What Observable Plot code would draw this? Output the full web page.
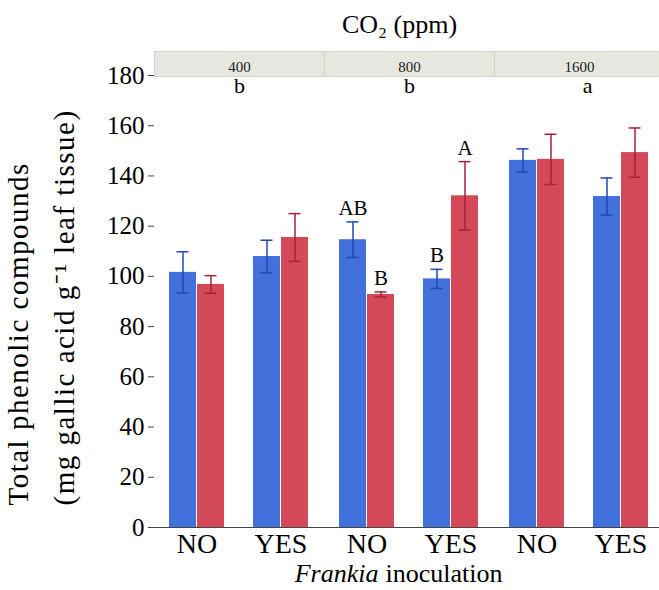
<!DOCTYPE html>
<html><head><meta charset="utf-8">
<script src="https://cdn.jsdelivr.net/npm/d3@7"></script>
<script src="https://cdn.jsdelivr.net/npm/@observablehq/plot@0.6"></script>
<style>body{margin:0;background:#fff}</style>
</head><body><div id="chart"></div>
<script>
// ---- data ----
const co2Levels = ["400", "800", "1600"];
const co2Letters = ["b", "b", "a"];
const groupCo2 = ["400", "400", "800", "800", "1600", "1600"];
const groupInoc = ["NO", "YES", "NO", "YES", "NO", "YES"];
const inocLevels = ["NO", "YES"];
const blueMean = [101.6, 107.9, 114.6, 99.0, 146.2, 131.8];
const blueErr  = [8.2, 6.5, 7.1, 3.8, 4.6, 7.4];
const blueLetters = ["", "", "AB", "B", "", ""];
const redMean = [96.8, 115.5, 92.8, 132.1, 146.6, 149.3];
const redErr  = [3.5, 9.5, 1.0, 13.6, 10.0, 9.8];
const redLetters = ["", "", "B", "A", "", ""];
const yTicks = [0, 20, 40, 60, 80, 100, 120, 140, 160, 180];
const yLabel1 = "Total phenolic compounds";
const yLabel2 = "(mg gallic acid g\u207B\u00B9 leaf tissue)";
const facetTitle = "CO\u2082 (ppm)";
const xTitleItalic = "Frankia";
const xTitleRest = "inoculation";

// ---- build tables ----
const blueRows = groupCo2.map((c, i) => ({co2: c, inoc: groupInoc[i], mean: blueMean[i], lo: blueMean[i] - blueErr[i], hi: blueMean[i] + blueErr[i], letter: blueLetters[i]}));
const redRows = groupCo2.map((c, i) => ({co2: c, inoc: groupInoc[i], mean: redMean[i], lo: redMean[i] - redErr[i], hi: redMean[i] + redErr[i], letter: redLetters[i]}));
const co2Rows = co2Levels.map((c, i) => ({co2: c, letter: co2Letters[i]}));

const FONT = "'Liberation Serif', 'Times New Roman', Times, serif";
const BLUE = "#4371DC", RED = "#D44959";
const BLUE_D = "#2447B2", RED_D = "#A62238";
const HALF = 28;

const plot = Plot.plot({
  width: 659, height: 590,
  marginLeft: 153, marginRight: -6, marginTop: 75, marginBottom: 63,
  style: {fontFamily: FONT, fontSize: "14px", color: "#000", background: "white"},
  fx: {domain: co2Levels, padding: 0, label: null, axis: null},
  x: {domain: inocLevels, paddingInner: 0.3435, paddingOuter: 0.172, axis: null},
  y: {domain: [0, 180], axis: null},
  marks: [
    Plot.frame({fill: "#E7E7DF", stroke: "#D2D2C8", insetTop: -24, insetBottom: 451}),
    Plot.axisFx({anchor: "top", tickSize: 0, tickPadding: 4, fontSize: 15, label: null, fill: "#222"}),
    Plot.axisY({ticks: yTicks, tickSize: 6, tickPadding: 4, fontSize: 25, label: null, line: true, stroke: "#444", fill: "#000"}),
    Plot.axisX({tickSize: 0, tickPadding: 6, fontSize: 28, label: null, fill: "#000"}),
    Plot.barY(blueRows, {fx: "co2", x: "inoc", y: "mean", fill: BLUE, insetRight: HALF}),
    Plot.barY(redRows, {fx: "co2", x: "inoc", y: "mean", fill: RED, insetLeft: HALF}),
    Plot.ruleY([0], {stroke: "#444"}),
    Plot.ruleX(blueRows, {fx: "co2", x: "inoc", y1: "lo", y2: "hi", dx: -14, stroke: BLUE_D, strokeWidth: 1.5}),
    Plot.ruleX(redRows, {fx: "co2", x: "inoc", y1: "lo", y2: "hi", dx: 14, stroke: RED_D, strokeWidth: 1.5}),
    Plot.tickY(blueRows, {fx: "co2", x: "inoc", y: "hi", insetLeft: 7.5, insetRight: 35.5, stroke: BLUE_D, strokeWidth: 1.5}),
    Plot.tickY(blueRows, {fx: "co2", x: "inoc", y: "lo", insetLeft: 7.5, insetRight: 35.5, stroke: BLUE_D, strokeWidth: 1.5}),
    Plot.tickY(redRows, {fx: "co2", x: "inoc", y: "hi", insetLeft: 35.5, insetRight: 7.5, stroke: RED_D, strokeWidth: 1.5}),
    Plot.tickY(redRows, {fx: "co2", x: "inoc", y: "lo", insetLeft: 35.5, insetRight: 7.5, stroke: RED_D, strokeWidth: 1.5}),
    Plot.text(blueRows, {fx: "co2", x: "inoc", y: "hi", text: "letter", dx: -14, dy: -7, lineAnchor: "bottom", fontSize: 21, fill: "#000"}),
    Plot.text(redRows, {fx: "co2", x: "inoc", y: "hi", text: "letter", dx: 14, dy: -7, lineAnchor: "bottom", fontSize: 21, fill: "#000"}),
    Plot.text(co2Rows.filter(d => d.co2 !== "1600"), {fx: "co2", text: "letter", frameAnchor: "top", dy: 2, fontSize: 22, fill: "#000"}),
    Plot.text(co2Rows.filter(d => d.co2 === "1600"), {fx: "co2", text: "letter", frameAnchor: "top", dx: 8, dy: 2, fontSize: 22, fill: "#000"}),
    Plot.text([facetTitle], {facet: "super", frameAnchor: "top", dx: -10, dy: -61, fontSize: 26, fill: "#000"}),
    Plot.text([xTitleItalic], {facet: "super", frameAnchor: "bottom", dx: -31, dy: 54, textAnchor: "end", fontStyle: "italic", fontSize: 26, fill: "#000"}),
    Plot.text([xTitleRest], {facet: "super", frameAnchor: "bottom", dx: -24, dy: 54, textAnchor: "start", fontSize: 26, fill: "#000"}),
    Plot.text([yLabel1], {facet: "super", frameAnchor: "bottom-left", rotate: -90, textAnchor: "start", dx: 26 - 153, dy: 505 - 527, fontSize: 29, fill: "#000", className: "ylab"}),
    Plot.text([yLabel2], {facet: "super", frameAnchor: "bottom-left", rotate: -90, textAnchor: "start", dx: 72 - 153, dy: 505 - 527, fontSize: 29, fill: "#000", className: "ylab"})
  ]
});
document.getElementById("chart").appendChild(plot);
// the reference's y-axis title is set slightly wider than normal
plot.querySelectorAll(".ylab text").forEach(t => t.setAttribute("letter-spacing", "1.5"));
</script>
</body></html>
